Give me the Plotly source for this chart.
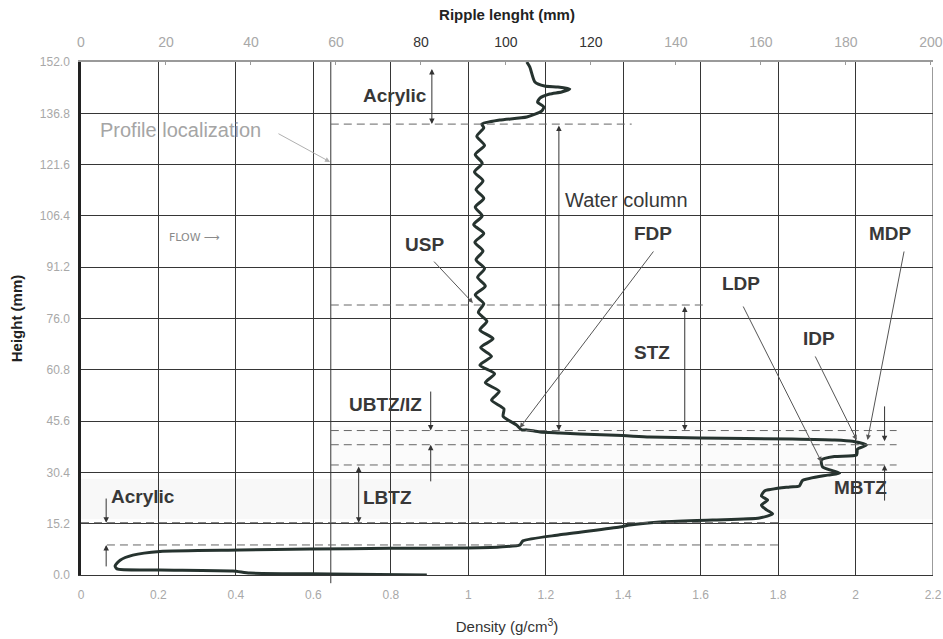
import plotly.graph_objects as go

# ---- density profile (density in g/cm3, height in mm) ----
density = [
    # acrylic lid and surface bump
    1.151, 1.159, 1.172, 1.197, 1.231, 1.262, 1.241, 1.210, 1.185, 1.179,
    1.195, 1.190, 1.151, 1.081, 1.035,
    # water column ripples
    1.040, 1.022, 1.042, 1.018, 1.036, 1.016, 1.038, 1.020, 1.040, 1.018,
    1.036, 1.014, 1.040, 1.017, 1.038, 1.020, 1.042, 1.024, 1.044, 1.018,
    1.040, 1.026, 1.048, 1.030, 1.064, 1.032, 1.060, 1.030, 1.068, 1.044,
    1.080, 1.060, 1.092, 1.090, 1.125, 1.138,
    # bed transition zones
    1.151, 1.185, 1.236, 1.288, 1.399, 1.468, 1.597, 1.837, 1.946, 1.992,
    2.028, 2.005, 2.003, 1.946, 1.912, 1.915, 1.959, 1.928, 1.863, 1.855,
    1.830, 1.765, 1.757, 1.773, 1.757, 1.770, 1.786, 1.752, 1.631, 1.494,
    1.417, 1.391, 1.236, 1.141, 1.133, 1.081, 0.978, 0.797, 0.591, 0.410,
    # acrylic base
    0.204, 0.134, 0.101, 0.088, 0.093, 0.204, 0.392, 0.436, 0.643, 0.893,
]
height = [
    152.0, 150.5, 146.1, 144.9, 144.6, 144.0, 143.1, 142.5, 141.3, 140.1,
    138.7, 137.5, 135.7, 134.8, 133.6,
    132.5, 130.0, 127.3, 124.6, 122.0, 119.4, 116.8, 114.2, 111.6, 109.0,
    106.4, 103.8, 101.2, 98.6, 96.0, 93.4, 90.8, 88.2, 85.6, 83.0,
    80.4, 77.8, 75.2, 72.6, 70.0, 67.4, 64.8, 62.2, 59.6, 57.0,
    54.4, 51.8, 49.2, 47.0, 44.4, 43.0,
    43.0, 42.4, 42.1, 41.8, 41.3, 40.9, 40.6, 40.3, 40.0, 39.6,
    38.5, 37.3, 35.6, 35.1, 34.1, 32.0, 30.2, 29.6, 28.0, 26.4,
    26.1, 24.9, 23.4, 22.2, 20.7, 19.3, 18.1, 16.9, 16.3, 15.7,
    14.8, 14.2, 11.9, 10.1, 8.9, 8.3, 8.0, 7.9, 7.7, 7.4,
    7.0, 5.9, 4.4, 2.7, 1.8, 1.5, 1.2, 0.6, 0.3, 0.0,
]

# ---- axes ----
height_ticks = [0.0, 15.2, 30.4, 45.6, 60.8, 76.0, 91.2, 106.4, 121.6, 136.8, 152.0]
density_ticks = [0, 0.2, 0.4, 0.6, 0.8, 1.0, 1.2, 1.4, 1.6, 1.8, 2.0, 2.2]
density_labels = ["0", "0.2", "0.4", "0.6", "0.8", "1", "1.2", "1.4", "1.6", "1.8", "2", "2.2"]
ripple_ticks = [0, 20, 40, 60, 80, 100, 120, 140, 160, 180, 200]
ripple_dark = [80, 100, 120]

# ---- zone boundaries (dashed) ----
boundary_h = [133.6, 80.0, 42.8, 38.6, 32.6, 15.5, 8.9]
boundary_x0 = [0.645, 0.645, 0.645, 0.645, 0.645, 0.0, 0.067]
boundary_x1 = [1.422, 1.618, 2.106, 2.106, 2.106, 1.801, 1.801]
profile_x = 0.645

# ---- zone arrows: x, start height, end height, two-headed ----
zone_arrows = [
    (0.906, 150.4, 133.6, True),    # acrylic top
    (1.234, 133.6, 42.8, True),     # water column
    (1.559, 80.0, 42.8, True),      # STZ
    (0.903, 54.8, 42.8, False),     # UBTZ/IZ from above
    (0.903, 27.3, 38.6, False),     # UBTZ/IZ from below
    (0.717, 32.6, 15.5, True),      # LBTZ
    (0.065, 23.1, 15.5, False),     # acrylic bottom, from above
    (0.065, 2.1, 8.9, False),       # acrylic bottom, from below
    (2.075, 50.4, 39.6, False),     # MBTZ from above
    (2.075, 21.6, 32.6, False),     # MBTZ from below
]

# ---- callouts: label, text pos, arrow tail, arrow head ----
callouts = [
    ("USP", (0.888, 97.8), (0.908, 93.3), (1.012, 80.6)),
    ("FDP", (1.476, 101.3), (1.481, 96.3), (1.133, 43.6)),
    ("LDP", (1.703, 86.5), (1.708, 80.0), (1.912, 33.5)),
    ("MDP", (2.090, 101.3), (2.126, 96.3), (2.031, 40.0)),
    ("IDP", (1.905, 70.2), (1.894, 65.2), (2.003, 40.0)),
]
zone_labels = [
    ("Acrylic", 0.810, 142.2),
    ("STZ", 1.474, 65.8),
    ("UBTZ/IZ", 0.785, 50.4),
    ("LBTZ", 0.792, 23.1),
    ("Acrylic", 0.160, 23.4),
    ("MBTZ", 2.013, 25.8),
]

FONT = "Liberation Sans, Arial, sans-serif"
GRID = "#363636"
LABEL = "#383838"
LIGHT = "#a8a8a8"

fig = go.Figure()

fig.add_trace(go.Scatter(
    x=density, y=height, mode="lines",
    line=dict(color="#26332f", width=3, shape="spline", smoothing=0.6),
    hoverinfo="skip", showlegend=False,
))
# anchors the top ripple-length axis
fig.add_trace(go.Scatter(
    x=[ripple_ticks[0], ripple_ticks[-1]], y=[-10, -10], xaxis="x2", mode="markers",
    marker=dict(opacity=0), hoverinfo="skip", showlegend=False,
))

shapes = []
# faint sediment haze
shapes.append(dict(type="rect", xref="x", yref="y", x0=0, x1=2.2, y0=16.5, y1=28.5,
                   fillcolor="rgba(175,175,175,0.09)", line=dict(width=0), layer="below"))
shapes.append(dict(type="rect", xref="x", yref="y", x0=profile_x, x1=2.2, y0=30.4, y1=44.0,
                   fillcolor="rgba(195,195,195,0.06)", line=dict(width=0), layer="below"))
# profile localization line and right border
shapes.append(dict(type="line", xref="x", yref="paper", x0=profile_x, x1=profile_x,
                   y0=-0.016, y1=1, line=dict(color=GRID, width=1)))
shapes.append(dict(type="line", xref="x", yref="paper", x0=2.2, x1=2.2,
                   y0=0, y1=0.99, line=dict(color=GRID, width=1)))
for h, x0, x1 in zip(boundary_h, boundary_x0, boundary_x1):
    shapes.append(dict(type="line", xref="x", yref="y", x0=x0, x1=x1, y0=h, y1=h,
                       line=dict(color="#666", width=1, dash="8px,5px")))

annotations = []
for x, y0, y1, both in zone_arrows:
    annotations.append(dict(
        x=x, y=y1, ax=x, ay=y0, xref="x", yref="y", axref="x", ayref="y",
        text="", showarrow=True, arrowhead=2, arrowsize=1.1, arrowwidth=1,
        arrowcolor="#333", arrowside="end+start" if both else "end",
        startarrowhead=2, startarrowsize=1.1, standoff=0, startstandoff=0,
    ))
for label, (tx, ty), (ax_, ay_), (hx, hy) in callouts:
    annotations.append(dict(
        x=hx, y=hy, ax=ax_, ay=ay_, xref="x", yref="y", axref="x", ayref="y",
        text="", showarrow=True, arrowhead=2, arrowsize=1, arrowwidth=1, arrowcolor="#555",
    ))
    annotations.append(dict(x=tx, y=ty, xref="x", yref="y", text=f"<b>{label}</b>",
                            showarrow=False, font=dict(family=FONT, size=19, color=LABEL)))
for label, tx, ty in zone_labels:
    annotations.append(dict(x=tx, y=ty, xref="x", yref="y", text=f"<b>{label}</b>",
                            showarrow=False, font=dict(family=FONT, size=19, color=LABEL)))

annotations.append(dict(x=1.409, y=111.1, xref="x", yref="y", text="Water column",
                        showarrow=False, font=dict(family=FONT, size=20, color=LABEL)))
annotations.append(dict(x=0.258, y=131.9, xref="x", yref="y", text="Profile localization",
                        showarrow=False, font=dict(family=FONT, size=20, color="#a5a5a5")))
annotations.append(dict(x=0.643, y=122.4, ax=0.506, ay=131.0, xref="x", yref="y",
                        axref="x", ayref="y", text="", showarrow=True, arrowhead=2,
                        arrowsize=1, arrowwidth=1, arrowcolor="#b0b0b0"))
annotations.append(dict(x=0.294, y=100.1, xref="x", yref="y", text="FLOW \u27f6",
                        showarrow=False, font=dict(family="DejaVu Sans, sans-serif", size=11,
                                                   color="#8a8a8a")))

ripple_text = [
    f"<span style='color:{'#333' if v in ripple_dark else LIGHT}'>{v}</span>"
    for v in ripple_ticks
]

fig.update_layout(
    width=943, height=639,
    margin=dict(l=81, r=10, t=62, b=64),
    paper_bgcolor="white", plot_bgcolor="white",
    font=dict(family=FONT, color="#333"),
    shapes=shapes, annotations=annotations,
    xaxis=dict(
        range=[0, 2.2], tickvals=density_ticks, ticktext=density_labels, automargin=False,
        showgrid=True, gridcolor=GRID, gridwidth=1, zeroline=False,
        showline=True, linecolor=GRID, linewidth=1,
        tickfont=dict(family=FONT, size=12, color=LIGHT), ticks="", ticklabelstandoff=9,
        title=dict(text="Density (g/cm<sup>3</sup>)", font=dict(family=FONT, size=15, color="#333"),
                   standoff=20),
    ),
    xaxis2=dict(
        range=[0, 200.5], overlaying="x", side="top", anchor="y", automargin=False,
        tickvals=ripple_ticks, ticktext=ripple_text,
        showgrid=False, zeroline=False, showline=True, linecolor="#9a9a9a", linewidth=1.5,
        ticks="inside", ticklen=3, tickcolor="#9a9a9a",
        tickfont=dict(family=FONT, size=14, color=LIGHT), ticklabelstandoff=8,
        title=dict(text="<b>Ripple lenght (mm)</b>", font=dict(family=FONT, size=15, color="#222"),
                   standoff=9),
    ),
    yaxis=dict(
        range=[0, 152], tickvals=height_ticks, ticktext=[f"{v:.1f}" for v in height_ticks],
        automargin=False,
        showgrid=True, gridcolor=GRID, gridwidth=1, zeroline=False,
        showline=True, linecolor="#222", linewidth=2.5,
        tickfont=dict(family=FONT, size=12, color=LIGHT), ticks="", ticklabelstandoff=6,
        title=dict(text="<b>Height (mm)</b>", font=dict(family=FONT, size=15, color="#222"),
                   standoff=14),
    ),
    showlegend=False,
)

fig.write_html("out.html")
